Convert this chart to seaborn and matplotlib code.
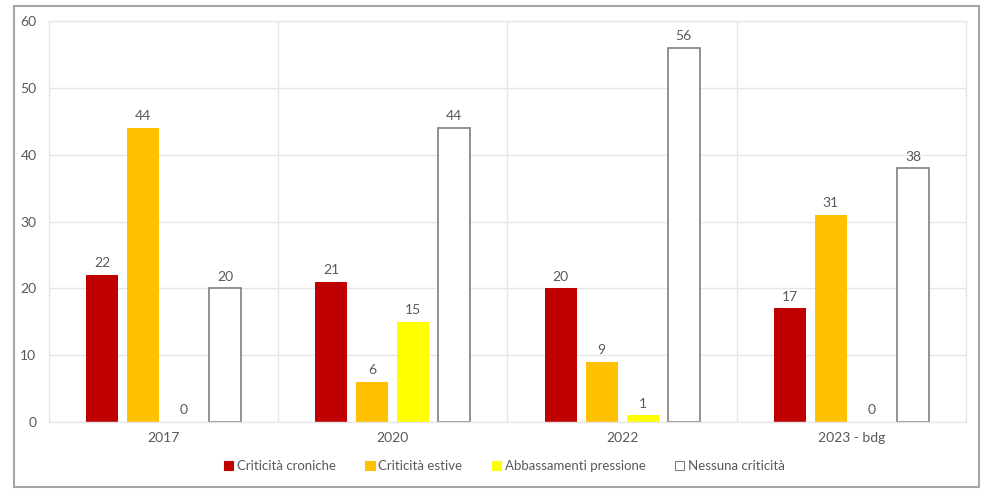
import matplotlib.pyplot as plt
import seaborn as sns
import pandas as pd
from matplotlib.patches import Patch, Rectangle

# ── data ──
years = ['2017', '2020', '2022', '2023 - bdg']
series = ['Criticità croniche', 'Criticità estive', 'Abbassamenti pressione', 'Nessuna criticità']
croniche = [22, 21, 20, 17]
estive = [44, 6, 9, 31]
abbassamenti = [0, 15, 1, 0]
nessuna = [20, 44, 56, 38]

rows = []
for name, vals in zip(series, [croniche, estive, abbassamenti, nessuna]):
    for y, v in zip(years, vals):
        rows.append({'Anno': y, 'Serie': name, 'Valore': v})
df = pd.DataFrame(rows)

palette = {
    'Criticità croniche': '#C00000',
    'Criticità estive': '#FFC000',
    'Abbassamenti pressione': '#FFFF00',
    'Nessuna criticità': '#FFFFFF',
}
txt = '#595959'

sns.set_style('white')
plt.rcParams['font.family'] = ['Lato', 'DejaVu Sans']

fig = plt.figure(figsize=(9.93, 4.98), dpi=100)
ax = fig.add_axes([0.0493, 0.1526, 0.9235, 0.805])

sns.barplot(data=df, x='Anno', y='Valore', hue='Serie', order=years,
            hue_order=series, palette=palette, width=0.716, gap=0.22,
            ax=ax, legend=False, saturation=1)

for cont, name in zip(ax.containers, series):
    for bar in cont:
        if name == 'Nessuna criticità':
            bar.set_edgecolor('#7F7F7F')
            bar.set_linewidth(1.2)
        else:
            bar.set_linewidth(0)
    ax.bar_label(cont, padding=4, fontsize=10, color=txt)

ax.set_ylim(0, 60)
ax.set_xlim(-0.5, 3.5)
ax.set_yticks(range(0, 61, 10))
ax.set_xlabel('')
ax.set_ylabel('')
ax.yaxis.grid(True, color='#E6E6E6', linewidth=1)
for x in [0.5, 1.5, 2.5]:
    ax.axvline(x, color='#E6E6E6', linewidth=1, zorder=0)
ax.set_axisbelow(True)
for s in ax.spines.values():
    s.set_color('#E6E6E6')
    s.set_linewidth(1)
ax.tick_params(axis='both', length=0, labelsize=10, colors=txt)
ax.tick_params(axis='y', pad=9)
ax.tick_params(axis='x', pad=7)

# outer chart frame
fig.patches.append(Rectangle((0.0141, 0.0221), 0.9718, 0.966, transform=fig.transFigure,
                             fill=False, edgecolor='#A6A6A6', linewidth=1.5, zorder=-1))

handles = [Patch(facecolor=palette[s], edgecolor='#7F7F7F' if s == 'Nessuna criticità' else palette[s],
                 linewidth=0.8, label=s) for s in series]
fig.legend(handles=handles, loc='center', bbox_to_anchor=(0.508, 0.064), ncol=4,
           frameon=False, fontsize=9.5, handlelength=0.7, handleheight=0.7,
           handletextpad=0.3, columnspacing=2.2, labelcolor=txt)

fig.savefig('out.png', dpi=100)
